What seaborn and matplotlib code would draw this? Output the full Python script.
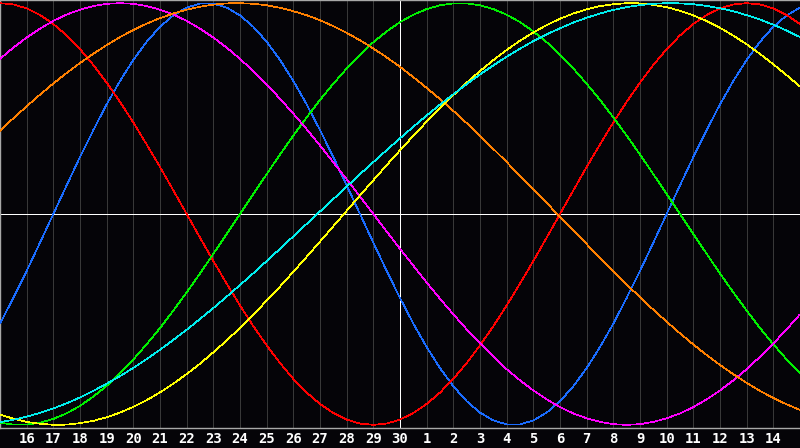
import matplotlib
matplotlib.use("Agg")
import matplotlib.pyplot as plt
import seaborn as sns
import pandas as pd

# x axis: day index 0..30 (readings every half day) maps to dates 15 .. 30, 1 .. 15
day_labels = ["15", "16", "17", "18", "19", "20", "21", "22", "23", "24", "25", "26", "27",
              "28", "29", "30", "1", "2", "3", "4", "5", "6", "7", "8", "9", "10",
              "11", "12", "13", "14", "15"]
days = [i / 2 for i in range(61)]

physical = [-52.0, -39.8, -27.0, -13.6, 0.0, 13.6, 27.0, 39.8, 52.0, 63.1, 73.1, 81.7, 88.8,
            94.2, 97.9, 99.8, 99.8, 97.9, 94.2, 88.8, 81.7, 73.1, 63.1, 52.0, 39.8, 27.0,
            13.6, 0.0, -13.6, -27.0, -39.8, -52.0, -63.1, -73.1, -81.7, -88.8, -94.2, -97.9,
            -99.8, -99.8, -97.9, -94.2, -88.8, -81.7, -73.1, -63.1, -52.0, -39.8, -27.0,
            -13.6, 0.0, 13.6, 27.0, 39.8, 52.0, 63.1, 73.1, 81.7, 88.8, 94.2, 97.9]
emotional = [100.0, 99.4, 97.5, 94.4, 90.1, 84.7, 78.2, 70.7, 62.3, 53.2, 43.4, 33.0, 22.3,
             11.2, 0.0, -11.2, -22.3, -33.0, -43.4, -53.2, -62.3, -70.7, -78.2, -84.7, -90.1,
             -94.4, -97.5, -99.4, -100.0, -99.4, -97.5, -94.4, -90.1, -84.7, -78.2, -70.7,
             -62.3, -53.2, -43.4, -33.0, -22.3, -11.2, 0.0, 11.2, 22.3, 33.0, 43.4, 53.2,
             62.3, 70.7, 78.2, 84.7, 90.1, 94.4, 97.5, 99.4, 100.0, 99.4, 97.5, 94.4, 90.1]
intellectual = [-99.0, -99.9, -99.9, -99.0, -97.2, -94.5, -91.0, -86.6, -81.5, -75.6, -69.0,
                -61.8, -54.1, -45.8, -37.2, -28.2, -18.9, -9.5, 0.0, 9.5, 18.9, 28.2, 37.2,
                45.8, 54.1, 61.8, 69.0, 75.6, 81.5, 86.6, 91.0, 94.5, 97.2, 99.0, 99.9, 99.9,
                99.0, 97.2, 94.5, 91.0, 86.6, 81.5, 75.6, 69.0, 61.8, 54.1, 45.8, 37.2, 28.2,
                18.9, 9.5, 0.0, -9.5, -18.9, -28.2, -37.2, -45.8, -54.1, -61.8, -69.0, -75.6]
intuitive = [73.6, 78.9, 83.7, 87.9, 91.6, 94.6, 96.9, 98.6, 99.7, 100.0, 99.7, 98.6, 96.9,
             94.6, 91.6, 87.9, 83.7, 78.9, 73.6, 67.7, 61.4, 54.7, 47.6, 40.2, 32.5, 24.5,
             16.5, 8.3, 0.0, -8.3, -16.5, -24.5, -32.5, -40.2, -47.6, -54.7, -61.4, -67.7,
             -73.6, -78.9, -83.7, -87.9, -91.6, -94.6, -96.9, -98.6, -99.7, -100.0, -99.7,
             -98.6, -96.9, -94.6, -91.6, -87.9, -83.7, -78.9, -73.6, -67.7, -61.4, -54.7,
             -47.6]
awareness = [39.5, 45.4, 51.1, 56.6, 61.9, 66.9, 71.6, 76.0, 80.1, 83.9, 87.3, 90.3, 92.9,
             95.1, 96.9, 98.3, 99.3, 99.9, 100.0, 99.7, 99.0, 97.8, 96.2, 94.3, 91.9, 89.1,
             85.9, 82.4, 78.5, 74.3, 69.8, 64.9, 59.8, 54.5, 48.9, 43.1, 37.1, 30.9, 24.6,
             18.2, 11.8, 5.2, -1.3, -7.8, -14.3, -20.8, -27.1, -33.4, -39.5, -45.4, -51.1,
             -56.6, -61.9, -66.9, -71.6, -76.0, -80.1, -83.9, -87.3, -90.3, -92.9]
aesthetic = [-95.1, -97.1, -98.6, -99.5, -100.0, -99.9, -99.2, -98.1, -96.4, -94.2, -91.5,
             -88.3, -84.6, -80.5, -75.9, -71.0, -65.6, -60.0, -54.0, -47.7, -41.1, -34.4,
             -27.4, -20.3, -13.1, -5.8, 1.5, 8.8, 16.0, 23.2, 30.2, 37.1, 43.8, 50.2, 56.4,
             62.3, 67.8, 73.0, 77.8, 82.2, 86.1, 89.6, 92.6, 95.1, 97.1, 98.6, 99.5, 100.0,
             99.9, 99.2, 98.1, 96.4, 94.2, 91.5, 88.3, 84.6, 80.5, 75.9, 71.0, 65.8, 60.5]
spiritual = [-98.7, -97.6, -96.1, -94.3, -92.2, -89.8, -87.0, -83.9, -80.5, -76.9, -73.0,
             -68.8, -64.4, -59.7, -54.9, -49.8, -44.6, -39.2, -33.7, -28.1, -22.3, -16.5,
             -10.6, -4.7, 1.2, 7.1, 13.0, 18.9, 24.6, 30.3, 35.9, 41.4, 46.7, 51.9, 56.8,
             61.6, 66.2, 70.5, 74.6, 78.4, 82.0, 85.2, 88.1, 90.8, 93.1, 95.1, 96.8, 98.1,
             99.1, 99.7, 100.0, 99.9, 99.5, 98.7, 97.6, 96.2, 94.3, 92.2, 89.8, 87.0, 83.9]

series = {
    "physical": physical,
    "emotional": emotional,
    "intellectual": intellectual,
    "intuitive": intuitive,
    "awareness": awareness,
    "aesthetic": aesthetic,
    "spiritual": spiritual,
}
colors = {
    "physical": "#1a6cff",
    "emotional": "#ff0000",
    "intellectual": "#00f000",
    "intuitive": "#ff00ff",
    "awareness": "#ff8000",
    "aesthetic": "#ffff00",
    "spiritual": "#00eeee",
}

rows = []
for name, vals in series.items():
    for d, v in zip(days, vals):
        rows.append({"day": d, "value": v, "series": name})
df = pd.DataFrame(rows)

sns.set_style("dark")
bg = "#050408"
px = 0.72
fig = plt.figure(figsize=(8.0, 4.48), dpi=100, facecolor=bg)
ax = fig.add_axes([0, 20 / 448, 1, 428 / 448])
ax.set_facecolor(bg)

n = len(day_labels)
for i in range(1, n - 1):
    if i == 15:
        continue
    ax.axvline(i, color="#383838", lw=px, zorder=1, antialiased=False)
ax.axvline(15, color="#ffffff", lw=px, zorder=1, antialiased=False)
ax.axhline(0, color="#ffffff", lw=px, zorder=1, antialiased=False)

sns.lineplot(data=df, x="day", y="value", hue="series", palette=colors,
             legend=False, sort=False, ax=ax, lw=0.5, zorder=3, antialiased=False)

ax.set_xlim(0, n - 1)
ax.set_ylim(-101.5, 101.5)
ax.set_xticks(range(1, n - 1))
ax.set_xticklabels(day_labels[1:-1], color="white", fontsize=10, fontweight="bold",
                   family="DejaVu Sans Mono")
ax.tick_params(axis="x", length=0, pad=3)
ax.set_yticks([])
ax.set_xlabel("")
ax.set_ylabel("")
ax.grid(False)
for side in ["left", "top", "bottom"]:
    ax.spines[side].set_visible(True)
    ax.spines[side].set_color("#a8a8a8")
    ax.spines[side].set_linewidth(px * 1.4)
ax.spines["right"].set_visible(False)

fig.savefig("out.png", dpi=100, facecolor=bg)
